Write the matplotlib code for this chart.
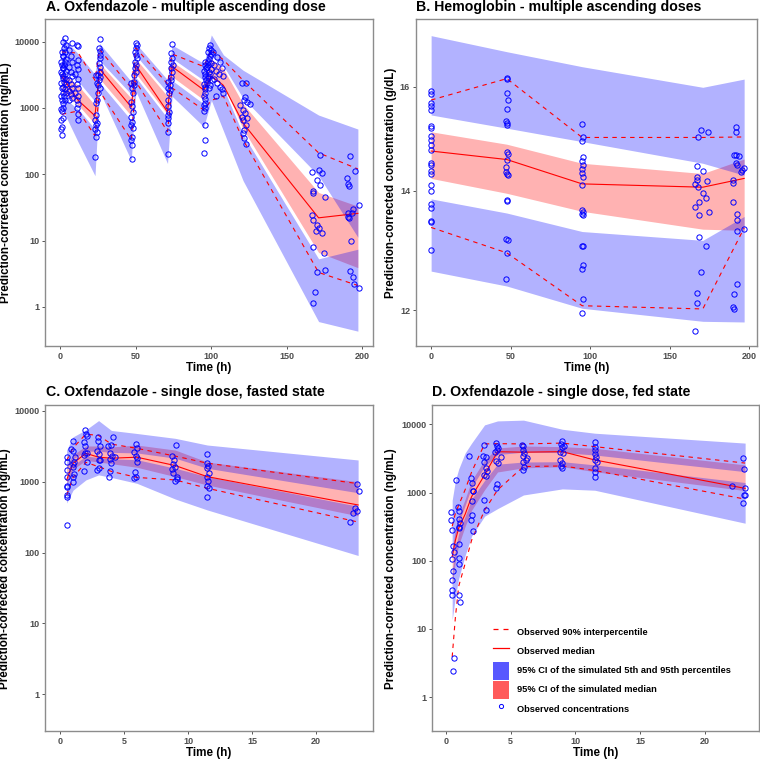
import numpy as np
import matplotlib
matplotlib.use("Agg")
import matplotlib.pyplot as plt
from matplotlib.lines import Line2D
from matplotlib.patches import Patch
from matplotlib.ticker import NullLocator

plt.rcParams['font.family'] = ['Liberation Sans', 'DejaVu Sans']
plt.rcParams['font.weight'] = 'bold'

# ---------------- Panel A: oxfendazole MAD ----------------
a_t = [1, 12, 23, 26, 47, 50, 71, 74, 95, 100, 108, 121, 171, 197]
a_hi_hi = [12000, 6500, 3200, 9400, 2500, 9400, 2650, 8900, 4700, 12600, 6300, 3700, 780, 480]
a_hi_lo = [4200, 2500, 1250, 5200, 1600, 6200, 1700, 5600, 2600, 6000, 4300, 1400, 95, 11.2]
a_med_hi = [3500, 2170, 1100, 4700, 1400, 5500, 1500, 5000, 2350, 5500, 3900, 1150, 53, 33]
a_med_lo = [1750, 1100, 570, 2760, 760, 3300, 800, 2960, 1320, 2800, 2300, 480, 6.6, 3.9]
a_lo_hi = [1500, 950, 480, 2400, 650, 2900, 700, 2600, 1150, 2400, 2000, 400, 5.3, 7.4]
a_lo_lo = [1000, 300, 95, 1800, 160, 1800, 145, 1500, 520, 1300, 450, 80, 0.6, 0.43]
a_p50 = [3000, 1290, 760, 3900, 1030, 4400, 870, 4200, 1860, 3000, 2200, 590, 22, 25.7]
a_p95 = [7000, 6700, 2600, 7600, 2000, 8000, 2300, 6500, 4200, 7500, 5300, 2600, 210, 120]
a_p5 = [800, 900, 380, 1800, 330, 2500, 440, 2000, 930, 1300, 1500, 330, 3.3, 2.1]

a_obs_t = [1, 0.5, 1, 0.5, 1.5, 1, 0.5, 1.5, 1, 0.5, 1.5, 1, 0.5, 1.5, 1, 0.5, 1.5, 1, 0.5, 1.5, 1,
           3, 2, 4, 2.5, 3, 2, 4, 3, 2.5, 2, 4, 3, 2, 3.5, 2.5, 4, 2, 3, 4, 2.5, 3, 2,
           8, 6, 7, 8, 6, 7, 8, 6, 7, 8, 6, 7, 8, 6,
           11, 12, 12, 11, 12, 10, 12, 11, 12, 10, 12, 11, 12, 11, 12, 12,
           23.5, 24, 23.5, 23.5, 23, 23.5, 24, 23.5, 23, 24, 23,
           26, 25.5, 26, 26.5, 26, 25.5, 26, 26.5, 25, 26, 25.5, 25, 26, 25, 24.5,
           47, 47.5, 48, 47, 47.5, 48, 47, 47.5, 47, 48, 47.5, 47, 47.5, 47.5,
           50, 50.5, 50, 49.5, 50, 50.5, 49.5, 50, 49.5, 50, 49, 49, 48.5,
           71.5, 71, 72, 71.5, 71, 72, 71.5, 71, 71.5, 71, 71,
           74, 73.5, 74, 73.5, 74.5, 73, 74, 73.5, 73, 72.5, 72.5,
           96, 95.5, 96.5, 95, 96, 95.5, 96.5, 95, 96, 95.5, 96, 95, 95.5, 96, 95, 95.5, 95, 95.5, 96, 95,
           99, 98.5, 99.5, 98, 100, 99, 98.5, 97.5, 99.5, 98, 97, 100, 98.5, 99, 97.5, 98, 100.5, 97, 99, 98.5,
           101, 104, 106, 102, 107, 103, 105, 108, 102, 104, 106, 107, 108, 103,
           120.1, 123.0, 121.9, 123.4, 119.0, 120.8, 122.3, 120.1, 121.2, 123.8, 122.7, 121.9, 120.8, 121.9,
           123.0, 125.6, 122.3,
           166.9, 171.5, 173.5, 172.0, 169.8, 167.5, 167.5, 175.3, 166.9, 167.5, 169.8, 171.5, 169.3, 173.5,
           167.5, 174.6, 169.8, 175.3, 168.7, 167.5, 172.0,
           191.8, 189.6, 190.3, 191.4, 195.1, 197.8, 193.6, 192.9, 190.7, 191.4, 190.3, 192.3, 191.8, 194.0,
           194.7, 197.8]
a_obs_c = [390, 480, 520, 650, 700, 900, 950, 1000, 1300, 1500, 1700, 2000, 2400, 2800, 3200, 3500, 4000,
           4500, 5000, 6000, 7000,
           11500, 10000, 9000, 8000, 7000, 6000, 5500, 5000, 4500, 4000, 3600, 3300, 3000, 2700, 2500, 2300,
           2100, 1900, 1700, 1500, 1300, 1200,
           9500, 7500, 6000, 5000, 4200, 3500, 3000, 2600, 2300, 2000, 1800, 1600, 1400, 1300,
           8800, 8500, 5200, 4500, 3800, 3200, 2700, 2300, 2000, 1700, 1500, 1300, 1150, 1000, 800, 660,
           3150, 2350, 1170, 780, 660, 550, 440, 370, 184, 600, 480,
           11000, 7900, 7100, 6300, 5600, 4700, 4200, 3500, 3100, 2970, 2640, 2220, 1970, 1660, 1320,
           2350, 1970, 1660, 1240, 1050, 880, 740, 620, 550, 490, 370, 330, 275, 168,
           9400, 8900, 7900, 7050, 6300, 5600, 5000, 4450, 3960, 3530, 3140, 2500, 2220,
           2500, 1970, 1660, 1320, 1050, 880, 780, 700, 590, 440, 200,
           9100, 6670, 5600, 5000, 4450, 3960, 3530, 2970, 2640, 2220, 1860,
           5000, 4500, 4000, 3600, 3200, 2900, 2600, 2300, 2100, 1900, 1700, 1500, 1350, 1200, 1100, 1000,
           900, 550, 330, 210,
           9000, 8000, 7500, 7000, 6500, 6000, 5500, 5000, 4700, 4400, 4100, 3800, 3500, 3200, 3000, 2800,
           2600, 2400, 2200, 2000,
           7000, 5800, 5000, 4500, 4000, 3600, 3300, 3000, 2700, 2400, 2100, 1900, 1700, 1500,
           2350, 2350, 1320, 1240, 1110, 930, 830, 740, 660, 700, 550, 470, 415, 350, 290, 1150, 1480,
           109, 115, 103, 69, 81, 55, 53, 46, 24, 20.3, 17, 15.2, 13.8, 13.2, 7.9, 6.6, 3.4, 3.6, 1.7, 1.16, 195,
           187, 87, 71, 66, 112, 34, 29.5, 25.7, 25.7, 22, 22.7, 10, 3.5, 2.8, 2.2, 1.9]

# ---------------- Panel B: hemoglobin ----------------
b_t = [0, 47.6, 95, 170.9, 196.9]
b_hi_hi = [17.09, 16.74, 16.42, 15.99, 16.16]
b_hi_lo = [15.43, 15.17, 14.91, 14.50, 14.28]
b_med_hi = [15.10, 14.86, 14.50, 14.31, 14.58]
b_med_lo = [14.22, 13.95, 13.63, 13.32, 13.30]
b_lo_hi = [13.85, 13.60, 13.28, 13.13, 13.54]
b_lo_lo = [12.62, 12.38, 12.03, 11.83, 11.82]
b_p50 = [14.73, 14.57, 14.12, 14.06, 14.22]
b_p95 = [15.73, 16.17, 14.99, 14.99, 15.00]
b_p5 = [13.35, 12.92, 12.07, 12.02, 13.34]

b_obs_t = [0] * 22 + \
          [47.6, 48.0, 47.8, 48.2, 47.6, 47.4, 48.0, 47.8, 47.6, 48.2, 47.8, 47.2, 47.4, 48.0, 48.2,
           47.6, 48.0, 47.4, 48.2, 47.6, 47.2] + \
          [95.0, 95.8, 94.6, 95.4, 95.0, 95.8, 94.8, 95.2, 95.6, 95.0, 94.8, 95.4, 95.0, 95.6, 94.8,
           95.6, 95.4, 94.8, 95.8, 95.0] + \
          [166.0, 167.1, 167.1, 167.1, 165.8, 167.9, 165.8, 168.8, 170.9, 170.0, 174.2, 168.1, 171.3,
           173.8, 173.0, 175.1, 168.8, 168.8, 173.0, 169.6, 167.1, 167.1] + \
          [191.8, 191.8, 190.8, 191.8, 193.9, 191.8, 192.7, 195.4, 195.0, 197.1, 189.7, 189.7, 189.7,
           192.7, 192.7, 192.7, 197.1, 192.7, 190.8, 189.7, 190.8]
b_obs_c = [15.92, 15.85, 15.66, 15.61, 15.53, 15.21, 15.17, 15.01, 14.95, 14.85, 14.75, 14.51, 14.47,
           14.35, 14.30, 14.10, 14.00, 13.76, 13.69, 13.46, 13.45, 12.96,
           16.19, 16.16, 15.88, 15.73, 15.54, 15.32, 15.28, 15.23, 14.71, 14.67, 14.56, 14.43, 14.33,
           14.31, 14.29, 13.83, 13.82, 13.15, 13.13, 12.92, 12.49,
           15.26, 14.99, 14.93, 14.62, 14.54, 14.46, 14.39, 14.32, 14.24, 14.10, 13.66, 13.62, 13.58,
           13.56, 13.04, 13.03, 12.72, 12.66, 12.17, 11.96,
           11.69, 14.44, 14.25, 14.19, 14.11, 14.06, 13.70, 13.80, 13.95, 15.13, 15.09, 14.99, 14.35,
           14.18, 13.86, 13.62, 13.57, 13.19, 13.03, 12.61, 12.27, 12.12,
           15.19, 15.09, 14.65, 14.65, 14.64, 14.51, 14.46, 14.37, 14.33, 14.41, 14.20, 14.14, 13.80,
           13.58, 13.47, 13.29, 13.32, 12.42, 12.25, 12.05, 12.02]

# ---------------- Panel C: single dose, fasted ----------------
c_t = [0.5, 1, 2, 3, 4, 6, 9, 11.5, 23.3]
c_hi_hi = [2800, 4300, 5400, 7300, 5300, 4800, 4100, 3300, 2030]
c_hi_lo = [1500, 2100, 2700, 2700, 2600, 2550, 2150, 1550, 700]
c_med_hi = [1700, 2400, 3200, 3200, 3100, 3300, 2800, 1900, 1000]
c_med_lo = [900, 1500, 2000, 1900, 1800, 1600, 1180, 900, 330]
c_lo_hi = [1100, 1700, 2300, 2200, 2100, 2050, 1550, 1180, 450]
c_lo_lo = [500, 760, 1060, 1250, 1150, 950, 570, 400, 91]
c_p50 = [1060, 1820, 2520, 2220, 2150, 2220, 1690, 1180, 470]
c_p95 = [2000, 3000, 4700, 4500, 3400, 2960, 2300, 1830, 940]
c_p5 = [650, 1150, 1880, 1630, 1400, 1150, 1060, 810, 270]

c_obs_t = [0.5] * 9 + \
          [1.02, 0.83, 1.02, 1.15, 1.07, 0.96, 1.02, 1.07, 1.02, 1.02] + \
          [1.93, 2.0, 1.88, 2.11, 1.93, 1.96, 2.11, 1.88, 2.11, 1.88] + \
          [2.97, 2.97, 3.1, 2.84, 3.02, 3.02, 3.1, 2.84, 3.02] + \
          [4.15, 4.0, 3.75, 3.88, 4.07, 3.88, 4.0, 4.28, 3.88, 3.8] + \
          [5.92, 6.02, 5.79, 5.92, 5.97, 6.02, 5.84, 5.92, 5.76] + \
          [9.05, 8.71, 8.89, 8.79, 8.97, 8.71, 8.84, 9.15, 8.97, 9.1] + \
          [11.5, 11.5, 11.58, 11.5, 11.66, 11.5, 11.58, 11.5, 11.66, 11.5] + \
          [22.7, 22.87, 23.08, 23.23, 23.23, 23.36]
c_obs_c = [2265, 1925, 1468, 1182, 873, 836, 651, 617, 245,
           3800, 2890, 2750, 2265, 1925, 1780, 1600, 1290, 1180, 1000,
           5370, 4730, 3690, 4470, 3200, 2520, 2570, 2400, 1880, 1440,
           4250, 3800, 3150, 2750, 2450, 2040, 2000, 1470, 1580,
           4250, 3310, 3150, 2520, 2300, 2075, 1860, 2270, 1440, 1180,
           3380, 2960, 2660, 2300, 2140, 1920, 1390, 1180, 1120,
           3270, 2320, 2040, 1780, 1600, 1500, 1310, 1180, 1040, 1080,
           2450, 1860, 1690, 1550, 1350, 1160, 1040, 875, 810, 605,
           274, 365, 425, 390, 920, 740]

# ---------------- Panel D: single dose, fed ----------------
d_t = [0.5, 0.75, 1, 1.5, 2, 3, 4, 6, 9, 11.5, 23.1]
d_hi_hi = [770, 1500, 2200, 3800, 5300, 9800, 11200, 11500, 8450, 7400, 5300]
d_hi_lo = [110, 220, 360, 650, 1200, 2400, 3600, 3900, 3840, 3550, 2020]
d_med_hi = [145, 300, 450, 800, 1500, 3000, 4500, 4800, 4700, 4440, 2540]
d_med_lo = [42, 100, 170, 320, 550, 1100, 2000, 2300, 2390, 2020, 1067]
d_lo_hi = [70, 150, 250, 450, 800, 1500, 2600, 2800, 2830, 2540, 1400]
d_lo_lo = [13.5, 30, 55, 120, 230, 450, 580, 920, 1130, 1080, 355]
d_p50 = [115, 200, 300, 480, 870, 1810, 3960, 3900, 3970, 3000, 1150]
d_p95 = [320, 500, 650, 1100, 2000, 5150, 5200, 5150, 5300, 4700, 2700]
d_p5 = [3.9, 15, 42, 91, 200, 550, 1090, 2400, 2450, 2100, 800]

d_obs_t = [0.41, 0.41, 0.51, 0.59, 0.64, 0.51, 0.54, 0.51, 0.51, 0.51, 0.54, 0.67,
           0.82, 0.98, 1.05, 1.05, 1.13, 1.05, 1.0, 1.05, 1.05, 1.05, 1.05, 1.13,
           1.83, 1.93, 2.0, 2.08, 2.0, 1.95, 2.03, 2.08, 2.13,
           2.96, 2.9, 3.08, 2.96, 3.08, 3.16, 2.98, 3.08, 2.96, 3.08,
           3.88, 3.98, 4.06, 3.8, 3.93, 3.88, 4.01, 4.24, 3.88, 3.98,
           5.86, 5.99, 5.94, 6.04, 5.99, 6.17, 5.99, 6.07, 5.94, 6.25,
           8.95, 8.9, 9.0, 9.15, 8.82, 9.02, 8.82, 8.95, 8.9, 9.0,
           11.5, 11.5, 11.5, 11.5, 11.58, 11.5, 11.64, 11.5, 11.5, 11.5,
           22.06, 22.9, 23.0, 23.1, 23.0, 23.1, 22.9]
d_obs_c = [515, 390, 280, 162, 133, 105, 70, 52, 37.5, 31.6, 2.43, 3.7,
           1520, 620, 545, 405, 355, 315, 300, 175, 109, 90, 31.6, 24.5,
           3470, 1620, 1365, 1070, 745, 400, 470, 270, 1060,
           4980, 3440, 3280, 2840, 2260, 2100, 1810, 1750, 775, 555,
           5380, 4800, 4450, 3980, 4200, 2940, 2750, 3360, 1150, 1330,
           4990, 4870, 4200, 3850, 3440, 3000, 2840, 2340, 2140, 3170,
           5760, 5150, 4700, 4820, 3980, 3850, 3000, 2750, 2450, 2270,
           5450, 4700, 4200, 3670, 3280, 3000, 2840, 2260, 2030, 1710,
           1250, 3170, 2200, 1180, 920, 920, 710]

LOG_TICKS = [1, 10, 100, 1000, 10000]
LOG_LABELS = ['1', '10', '100', '1000', '10000']
YLAB_CONC = 'Prediction-corrected concentration (ng/mL)'
YLAB_HB = 'Prediction-corrected concentration (g/dL)'

W, H = 760, 761
fig = plt.figure(figsize=(W / 100, H / 100), dpi=100)


def px_axes(l, t, r, b):
    return fig.add_axes([l / W, 1 - b / H, (r - l) / W, (b - t) / H])


def vpc(ax, t, hi_hi, hi_lo, med_hi, med_lo, lo_hi, lo_lo, p5, p50, p95, ot, oc):
    ax.fill_between(t, med_lo, med_hi, color='red', alpha=0.3, lw=0)
    ax.fill_between(t, hi_lo, hi_hi, color='blue', alpha=0.3, lw=0)
    ax.fill_between(t, lo_lo, lo_hi, color='blue', alpha=0.3, lw=0)
    ax.plot(t, p50, color='red', lw=0.8)
    ax.plot(t, p5, color='red', lw=0.8, ls=(0, (4, 4)))
    ax.plot(t, p95, color='red', lw=0.8, ls=(0, (4, 4)))
    ax.plot(ot, oc, 'o', ms=3.8, mfc='none', mec='blue', mew=0.7, ls='none')


def style(ax, xlim, ylim, xticks, yticks, ylabels, ylab, ylab_x):
    ax.set_yscale('log')
    ax.set_xlim(xlim)
    ax.set_ylim(ylim)
    ax.set_xticks(xticks)
    ax.set_xticklabels([str(v) for v in xticks])
    ax.set_yticks(yticks)
    ax.set_yticklabels(ylabels)
    ax.yaxis.set_minor_locator(NullLocator())
    for s in ax.spines.values():
        s.set_color('#8c8c8c')
        s.set_linewidth(1.0)
    ax.tick_params(length=2.5, width=0.7, color='#555555', labelsize=6.5,
                   labelcolor='#4d4d4d', pad=1.5)
    ax.set_xlabel('Time (h)', fontsize=8.4, fontweight='bold')
    ax.xaxis.set_label_coords(0.5, -0.067)
    ax.xaxis.label.set_va('center')
    ax.set_ylabel(ylab, fontsize=8.4, fontweight='bold')
    ax.yaxis.set_label_coords(ylab_x, 0.5)
    ax.yaxis.label.set_va('center')


axA = px_axes(45, 19, 373, 346)
vpc(axA, a_t, a_hi_hi, a_hi_lo, a_med_hi, a_med_lo, a_lo_hi, a_lo_lo, a_p5, a_p50, a_p95, a_obs_t, a_obs_c)
style(axA, (-10.1, 207), (0.257, 21900), [0, 50, 100, 150, 200], LOG_TICKS, LOG_LABELS, YLAB_CONC, -0.119)

axB = px_axes(415.7, 19, 756.7, 346)
vpc(axB, b_t, b_hi_hi, b_hi_lo, b_med_hi, b_med_lo, b_lo_hi, b_lo_lo, b_p5, b_p50, b_p95, b_obs_t, b_obs_c)
style(axB, (-9.7, 204.8), (11.46, 17.46), [0, 50, 100, 150, 200], [12, 14, 16], ['12', '14', '16'],
      YLAB_HB, -0.072)

axC = px_axes(45.3, 405.3, 372.7, 731)
vpc(axC, c_t, c_hi_hi, c_hi_lo, c_med_hi, c_med_lo, c_lo_hi, c_lo_lo, c_p5, c_p50, c_p95, c_obs_t, c_obs_c)
style(axC, (-1.17, 24.44), (0.303, 12000), [0, 5, 10, 15, 20], LOG_TICKS, LOG_LABELS, YLAB_CONC, -0.123)

axD = px_axes(431.7, 405.3, 759, 731)
vpc(axD, d_t, d_hi_hi, d_hi_lo, d_med_hi, d_med_lo, d_lo_hi, d_lo_lo, d_p5, d_p50, d_p95, d_obs_t, d_obs_c)
style(axD, (-1.08, 24.17), (0.32, 18970), [0, 5, 10, 15, 20], LOG_TICKS, LOG_LABELS, YLAB_CONC, -0.124)

titles = [(46, 7, 'A. Oxfendazole - multiple ascending dose'),
          (416, 7, 'B. Hemoglobin - multiple ascending doses'),
          (46, 392, 'C. Oxfendazole - single dose, fasted state'),
          (432, 392, 'D. Oxfendazole - single dose, fed state')]
for x, y, s in titles:
    fig.text(x / W, 1 - y / H, s, fontsize=10.2, fontweight='bold', ha='left', va='center')

handles = [Line2D([], [], color='red', lw=0.9, ls=(0, (4, 4))),
           Line2D([], [], color='red', lw=0.9),
           Patch(facecolor='#5858ff', edgecolor='none'),
           Patch(facecolor='#ff5a5a', edgecolor='none'),
           Line2D([], [], marker='o', ls='none', ms=3, mfc='none', mec='blue', mew=0.7)]
labels = ['Observed 90% interpercentile', 'Observed median',
          '95% CI of the simulated 5th and 95th percentiles',
          '95% CI of the simulated median', 'Observed concentrations']
fig.legend(handles, labels, loc='upper left', bbox_to_anchor=(492.7 / W, 1 - 623.3 / H),
           frameon=False, fontsize=6.7, handlelength=1.78, handleheight=2.6,
           labelspacing=0.12, handletextpad=0.8, borderpad=0, borderaxespad=0)

fig.savefig('out.png', dpi=100)
